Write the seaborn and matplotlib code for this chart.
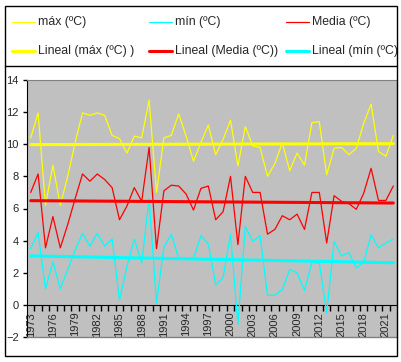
import numpy as np
import matplotlib
matplotlib.use("Agg")
import matplotlib.pyplot as plt
from matplotlib.lines import Line2D
from matplotlib.patches import Rectangle
from matplotlib.transforms import Bbox, TransformedBbox
import seaborn as sns

# %%
years = list(range(1973, 2023))

maxima = [10.4, 11.95, 6.2, 8.7, 6.2, 8.0, 10.1, 11.95, 11.8, 11.95, 11.8, 10.55, 10.35, 9.45, 10.5,
          10.4, 12.75, 7.0, 10.4, 10.55, 11.9, 10.5, 8.95, 10.1, 11.2, 9.35, 10.3, 11.5, 8.65, 11.1, 9.9, 9.8,
          8.0, 8.8, 10.1, 8.35, 9.45, 8.7, 11.35, 11.4, 8.1, 9.75, 9.8, 9.35, 9.75, 11.3, 12.5, 9.55, 9.25, 10.55]

media = [7.0, 8.15, 3.55, 5.5, 3.55, 5.0, 6.6, 8.15, 7.7, 8.15, 7.8, 7.3, 5.3, 6.15, 7.3,
         6.45, 9.8, 3.5, 7.1, 7.45, 7.4, 6.9, 5.9, 7.25, 7.4, 5.3, 5.8, 8.0, 3.75, 8.0, 7.0, 7.0,
         4.4, 4.7, 5.55, 5.3, 5.65, 4.7, 7.0, 7.0, 3.85, 6.8, 6.45, 6.3, 5.95, 6.95, 8.5, 6.5, 6.5, 7.4]

minima = [3.5, 4.5, 1.0, 2.7, 1.0, 2.2, 3.4, 4.45, 3.65, 4.45, 3.65, 4.1, 0.3, 2.4, 4.1,
          2.6, 6.6, 0.1, 3.6, 4.4, 2.9, 2.9, 2.9, 4.3, 3.8, 1.25, 1.7, 4.4, -1.2, 4.9, 3.95, 4.3,
          0.6, 0.6, 0.95, 2.2, 2.0, 0.9, 2.65, 2.6, -0.5, 3.95, 3.05, 3.25, 2.3, 2.65, 4.35, 3.55, 3.85, 4.1]

YELLOW = "#FFFF00"
CYAN = "#00FFFF"
RED = "#FF0000"

# %%
W, H = 402, 362
sns.set_style("white")
plt.rcParams["font.family"] = ["Liberation Sans", "DejaVu Sans"]

fig = plt.figure(figsize=(W / 100, H / 100), dpi=100)
ax = fig.add_axes([27 / W, 1 - 337 / H, 370 / W, 257 / H])
ax.set_facecolor("#C0C0C0")

idx = np.arange(len(years))
for vals, col in [(maxima, YELLOW), (minima, CYAN), (media, RED)]:
    sns.lineplot(x=idx, y=vals, color=col, lw=0.9, ax=ax, zorder=3)
for vals, col in [(maxima, YELLOW), (media, RED), (minima, CYAN)]:
    sns.regplot(x=idx, y=np.array(vals), scatter=False, ci=None, color=col,
                line_kws=dict(lw=2.2, zorder=4), ax=ax)

ax.set_xlim(-0.5, len(years) - 0.5)
ax.set_ylim(-2, 14)
ax.set_yticks(range(-2, 15, 2))
ax.set_xticks(idx[::3])
ax.set_xticklabels([str(y) for y in years[::3]])
ax.set_xticks(idx[:-1] + 0.5, minor=True)
ax.tick_params(axis="x", which="major", length=0, pad=5, labelsize=8, labelrotation=90)
ax.tick_params(axis="x", which="minor", length=4, width=1, color="black", direction="out", bottom=True)
ax.tick_params(axis="y", length=3, width=1, color="black", direction="out", left=True, labelsize=8, pad=3)
ax.set_xlabel("")
ax.set_ylabel("")

ax.spines["bottom"].set_position(("data", 0))
ax.spines["bottom"].set_color("black")
ax.spines["left"].set_color("black")
for s in ["top", "right"]:
    ax.spines[s].set_visible(True)
    ax.spines[s].set_color("#808080")
ax.axhline(-2, color="#808080", lw=1, clip_on=False, zorder=5)

# outer frame and legend box
fig.add_artist(Rectangle((5 / W, 1 - 356 / H), 392 / W, 350 / H, fill=False,
                         ec="black", lw=1, transform=fig.transFigure))
fig.add_artist(Line2D([5 / W, 397 / W], [1 - 66 / H] * 2, color="black", lw=1,
                      transform=fig.transFigure))

legend_items = [
    ("máx (ºC)", YELLOW, 0.9, 12, 22),
    ("mín (ºC)", CYAN, 0.9, 149, 22),
    ("Media (ºC)", RED, 0.9, 286, 22),
    ("Lineal (máx (ºC) )", YELLOW, 2.2, 12, 51),
    ("Lineal (Media (ºC))", RED, 2.2, 149, 51),
    ("Lineal (mín (ºC))", CYAN, 2.2, 286, 51),
]
clip = TransformedBbox(Bbox([[0, 0], [397 / W, 1]]), fig.transFigure)
for label, col, lw, x0, y0 in legend_items:
    fig.add_artist(Line2D([x0 / W, (x0 + 23) / W], [1 - y0 / H] * 2, color=col, lw=lw,
                          transform=fig.transFigure))
    t = fig.text((x0 + 26) / W, 1 - y0 / H, label, fontsize=8.8, va="center", ha="left")
    t.set_clip_box(clip)
    t.set_clip_on(True)

fig.savefig("out.png", dpi=100)
